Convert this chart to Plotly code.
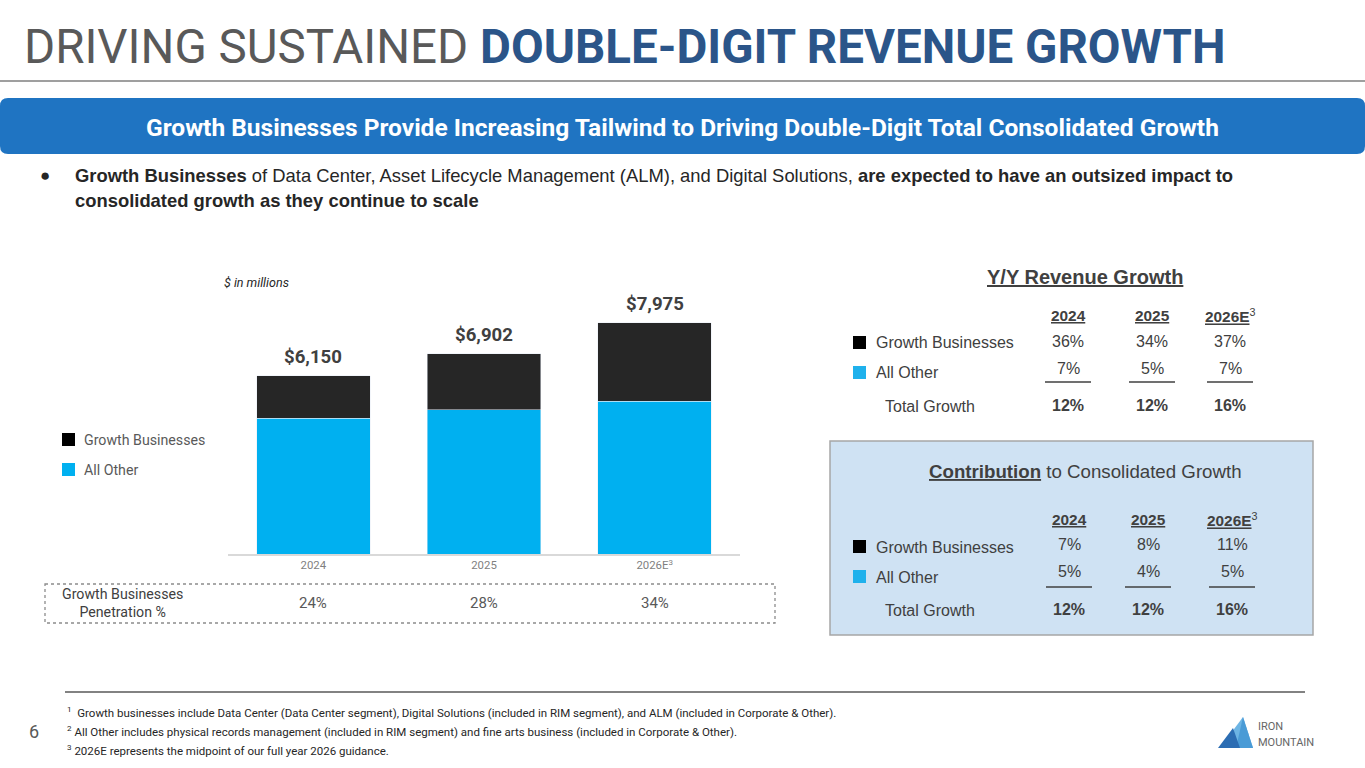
import plotly.graph_objects as go

W, H = 1365, 768

# bar chart data ($ in millions)
years = ["2024", "2025", "2026E"]
year_ticks = ["2024", "2025", "2026E<sup>3</sup>"]
totals = [6150, 6902, 7975]
all_other = [4674, 4969, 5263]
growth_biz = [1476, 1933, 2712]
penetration = [24, 28, 34]

# Y/Y revenue growth table (%)
yoy_growth = [36, 34, 37]
yoy_other = [7, 5, 7]
yoy_total = [12, 12, 16]

# contribution to consolidated growth table (%)
contrib_growth = [7, 8, 11]
contrib_other = [5, 4, 5]
contrib_total = [12, 12, 16]

footnotes = [
    "<sup>1</sup>  Growth businesses include Data Center (Data Center segment), Digital Solutions (included in RIM segment), and ALM (included in Corporate & Other).",
    "<sup>2</sup> All Other includes physical records management (included in RIM segment) and fine arts business (included in Corporate & Other).",
    "<sup>3</sup> 2026E represents the midpoint of our full year 2026 guidance.",
]

BLUE = "#00b0f0"
DARK = "#262626"
TXT = "#404040"
FONT = "Liberation Sans"


def X(px):
    return px / W


def Y(py):
    return 1 - py / H


annotations = []
shapes = []


def text(x, y, s, size=14, color=TXT, anchor="left", family=FONT, vanchor="middle"):
    annotations.append(dict(
        x=X(x), y=Y(y), xref="paper", yref="paper", text=s, showarrow=False,
        xanchor=anchor, yanchor=vanchor, font=dict(size=size, color=color, family=family),
    ))


def rect(x0, y0, x1, y1, fill, line=None, width=0, dash="solid"):
    shapes.append(dict(
        type="rect", xref="paper", yref="paper", x0=X(x0), x1=X(x1), y0=Y(y0), y1=Y(y1),
        fillcolor=fill, line=dict(color=line or fill, width=width, dash=dash), layer="below",
    ))


def hline(x0, x1, y, color, width=1.5):
    shapes.append(dict(
        type="line", xref="paper", yref="paper", x0=X(x0), x1=X(x1), y0=Y(y), y1=Y(y),
        line=dict(color=color, width=width),
    ))


fig = go.Figure()
fig.add_trace(go.Bar(x=years, y=all_other, marker_color=BLUE, name="All Other", width=0.665))
fig.add_trace(go.Bar(x=years, y=growth_biz, marker_color=DARK, name="Growth Businesses", width=0.665))

# total labels above bars (category index positions)
for i, t in enumerate(totals):
    annotations.append(dict(
        x=i, y=t, xref="x", yref="y", text=f"<b>${t:,}</b>", showarrow=False,
        yanchor="bottom", yshift=6, font=dict(size=18.6, color=TXT, family="Roboto"),
    ))

# penetration row
for i, p in enumerate(penetration):
    annotations.append(dict(
        x=i, y=Y(603), xref="x", yref="paper", text=f"{p}%", showarrow=False,
        yanchor="middle", font=dict(size=15, color="#595959", family="Roboto"),
    ))
rect(45, 584, 775, 623, "rgba(0,0,0,0)", "#8c8c8c", 1.3, "dot")
text(122, 603, "Growth Businesses<br>Penetration %", 14.2, "#404040", "center", "Roboto")

# title
text(22, 47, "DRIVING SUSTAINED <b><span style='color:#2b5589'>DOUBLE-DIGIT REVENUE GROWTH</span></b>",
     47.5, "#595959", "left", "Roboto")
hline(0, W, 81, "#7f7f7f", 1.5)

# banner
shapes.append(dict(
    type="path", xref="paper", yref="paper",
    path=f"M {X(8)},{Y(98)} L {X(1357)},{Y(98)} Q {X(1365)},{Y(98)} {X(1365)},{Y(106)} "
         f"L {X(1365)},{Y(146)} Q {X(1365)},{Y(154)} {X(1357)},{Y(154)} L {X(8)},{Y(154)} "
         f"Q {X(0)},{Y(154)} {X(0)},{Y(146)} L {X(0)},{Y(106)} Q {X(0)},{Y(98)} {X(8)},{Y(98)} Z",
    fillcolor="#1f74c2", line=dict(width=0), layer="below",
))
text(682, 127, "<b>Growth Businesses Provide Increasing Tailwind to Driving Double-Digit Total Consolidated Growth</b>",
     24.5, "white", "center", "Roboto")

# bullet
text(45, 176, "●", 17, "#262626", "center", FONT)
text(73, 176, "<b>Growth Businesses</b> of Data Center, Asset Lifecycle Management (ALM), and Digital Solutions, "
     "<b>are expected to have an outsized impact to</b>", 18.4, "#262626", "left", FONT)
text(73, 200, "<b>consolidated growth as they continue to scale</b>", 18.4, "#262626", "left", FONT)

text(222, 283, "<i>$ in millions</i>", 12.5, "#262626", "left", "Roboto")

# chart legend
rect(62, 433, 75, 446, "#000000")
text(82, 440, "Growth Businesses", 14.2, "#595959", "left", "Roboto")
rect(62, 463, 75, 476, BLUE)
text(82, 470, "All Other", 14.2, "#595959", "left", "Roboto")


def table(rows_y, head_y, cols, title_y, title, title_size, g, o, t, line_y, total_y, legend_y):
    text(1085, title_y, title, title_size, TXT, "center")
    for cx, yr in zip(cols, ["2024", "2025", "2026E"]):
        lbl = f"<b><u>{yr}</u></b>"
        if yr.endswith("E"):
            lbl += "<sup>3</sup>"
        text(cx, head_y, lbl, 15.4, TXT, "center")
    for cx, a, b, c in zip(cols, g, o, t):
        text(cx, rows_y[0], f"{a}%", 16, TXT, "center")
        text(cx, rows_y[1], f"{b}%", 16, TXT, "center")
        text(cx, total_y, f"<b>{c}%</b>", 16, TXT, "center")
        hline(cx - 23, cx + 23, line_y, "#404040", 1.5)
    rect(853, legend_y[0] - 7, 866, legend_y[0] + 6, "#000000")
    text(874, legend_y[0], "Growth Businesses", 16, TXT)
    rect(853, legend_y[1] - 7, 866, legend_y[1] + 6, "#1fb1ec")
    text(874, legend_y[1], "All Other", 16, TXT)
    text(883, total_y + 1, "Total Growth", 16, TXT)


table([341, 368], 316, [1068, 1152, 1230], 277, "<b><u>Y/Y Revenue Growth</u></b>", 20,
      yoy_growth, yoy_other, yoy_total, 382, 405, [343, 373])

rect(830, 441, 1313, 635, "#cfe2f3", "#a6a6a6", 1.5)
table([544, 571], 519, [1069, 1148, 1232], 471,
      "<b><u>Contribution</u></b> to Consolidated Growth", 18.7,
      contrib_growth, contrib_other, contrib_total, 587, 609, [547, 577])

# footer
hline(65, 1305, 692, "#595959", 1.5)
for i, fn in enumerate(footnotes):
    text(65, 712 + i * 19, fn, 11.5, "#262626", "left", "Roboto")
text(27, 731, "6", 18, "#595959", "left", "Roboto")

# logo
for pts, col in [
    ([(1220, 748), (1243, 717), (1253, 748)], "#6cb4e4"),
    ([(1236, 748), (1243, 717), (1253, 748)], "#4a9bd6"),
    ([(1218, 748), (1233, 728), (1240, 748)], "#2c6db3"),
]:
    p = "M " + " L ".join(f"{X(a)},{Y(b)}" for a, b in pts) + " Z"
    shapes.append(dict(type="path", xref="paper", yref="paper", path=p, fillcolor=col, line=dict(width=0)))
text(1256, 726, "IRON", 11, "#666666", "left", "Roboto")
text(1256, 742, "MOUNTAIN", 11, "#666666", "left", "Roboto")

fig.update_layout(
    width=W, height=H, margin=dict(l=0, r=0, t=0, b=0),
    paper_bgcolor="white", plot_bgcolor="white",
    barmode="stack", showlegend=False,
    xaxis=dict(domain=[X(228), X(740)], range=[-0.5, 2.5], tickmode="array",
               tickvals=years, ticktext=year_ticks, showline=True, linecolor="#d9d9d9",
               linewidth=1.5, showgrid=False, ticks="", tickfont=dict(size=11.4, color="#7f7f7f", family="Roboto")),
    yaxis=dict(domain=[Y(554), Y(293)], range=[0, 9000], visible=False),
    annotations=annotations, shapes=shapes,
)

# page body has a default margin; remove it so the figure fills the window
fig.write_html("out.html", config={"displayModeBar": False},
               post_script="document.body.style.margin='0';")
